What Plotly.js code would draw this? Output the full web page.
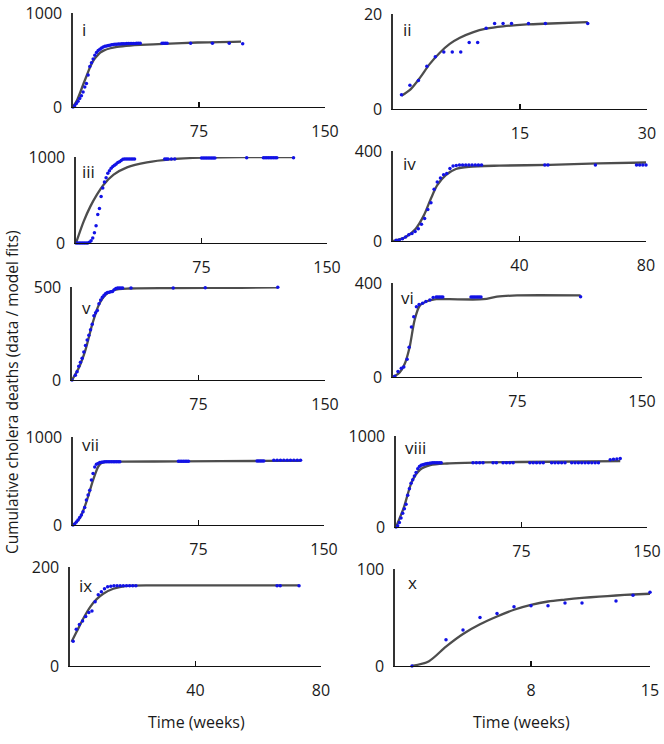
<!DOCTYPE html>
<html>
<head>
<meta charset="utf-8">
<script src="https://cdn.plot.ly/plotly-3.0.1.min.js"></script>
<style>html,body{margin:0;padding:0;background:#fff;}#chart{width:664px;height:744px;}</style>
</head>
<body>
<div id="chart"></div>
<script>
// ---------- DATA ----------
const panelNames = ['i','ii','iii','iv','v','vi','vii','viii','ix','x'];
const yTops  = [1000, 20, 1000, 400, 500, 400, 1000, 1000, 200, 100];
const xMaxes = [150, 30, 150, 80, 150, 150, 150, 150, 80, 15];
const xTickVals = [[75,150],[15,30],[75,150],[40,80],[75,150],[75,150],[75,150],[75,150],[40,80],[8,15]];
const xTickText = [['75','150'],['15','30'],['75','150'],['40','80'],['75','150'],['75','150'],['75','150'],['75','150'],['40','80'],['8','15']];
const yTickText = [['0','1000'],['0','20'],['0','1000'],['0','400'],['0','500'],['0','400'],['0','1000'],['0','1000'],['0','200'],['0','100']];

// panel i
const iDataX = [0,1,2,3,4,5,6,7,8,9,10,11,12,13,14,15,16,17,18,19,20,21,22,23,24,25,26,27,28,29,30,31,32,33,34,35,36,37,38,39,40,53,54,55,56,70,83,93,101];
const iDataY = [0,12,36,60,90,120,160,214,250,340,430,470,510,550,580,600,615,628,638,645,650,655,658,662,665,667,668,670,671,672,673,674,675,675,675,676,676,676,677,677,677,677,677,677,677,678,678,678,672];
const iModelX = [0,2.4,4.4,6.3,8.3,10.3,12.3,14.3,16.2,18.2,22.2,26.2,34,40,54,74,100];
const iModelY = [0,71,160,250,340,430,500,543,579,600,625,639,654,661,671,686,696];
// panel ii
const iiDataX = [1,2,3,4,5,6,7,8,9,10,11,12,13,14,16,18,23];
const iiDataY = [3,5,6,9,11,12,12,12,14,14,17,18,18,18,18,18,18];
const iiModelX = [1,2.1,3.2,4.3,5.5,6.7,7.9,9.5,11,13,15.8,18.6,23];
const iiModelY = [2.8,4.2,6.6,9.4,11.8,13.7,15,16.2,16.9,17.4,17.8,18,18.3];
// panel iii
const iiiDataX = [0,1,2,3,4,5,6,7,8,9,10,11,12,13,14,15,16,17,18,19,20,21,22,23,24,25,26,27,28,29,30,31,32,33,34,35,53,54,55,57,59,75,76,77,78,79,80,81,82,83,102,112,113,114,115,116,117,118,119,120,130];
const iiiDataY = [0,0,0,0,0,0,0,0,10,25,58,120,200,330,400,540,640,710,760,810,840,870,890,905,920,935,945,960,973,977,977,977,977,977,977,977,977,977,977,977,977,988,988,988,988,988,988,988,988,988,990,990,990,990,990,990,990,990,990,990,990];
const iiiModelX = [0,4.6,8.6,12.5,16.5,22.5,30.5,42.4,56.4,76,102,130];
const iiiModelY = [0,252,426,562,678,795,880,938,973,992,998,1000];
// panel iv
const ivDataX = [1,2,3,4,5,6,7,8,9,10,11,12,13,14,15,16,17,18,19,20,21,22,23,24,25,26,27,28,48,49,64,77,78,79,80];
const ivDataY = [3,5,10,18,28,33,42,55,75,100,140,170,230,262,280,295,300,322,333,336,338,338,338,338,338,338,338,338,338,338,338,338,338,338,338];
const ivModelX = [0,1,4,7.2,9.8,12,14,16.7,19.9,24,33.6,49.5,65,80];
const ivModelY = [0,3,18,55,115,189,248,293,320,330,335,338,345,349];
// panel v
const vDataX = [0,2,3,4,5,6,7,8,9,10,11,12,13,14,15,16,17,18,19,20,21,22,23,24,25,26,27,28,29,30,35,60,79,122];
const vDataY = [0,25,45,74,95,117,150,185,215,240,270,300,345,361,373,410,430,445,455,465,470,472,474,476,485,492,494,494,494,494,494,494,496,498];
const vModelX = [0,4,8,12,16,20,25,34,60,100,122];
const vModelY = [0,64,162,299,406,459,484,492,494,496,498];
// panel vi
const viDataX = [1,3,5,6.5,8.5,9.7,11.1,12.5,14.1,15.7,17.8,19.8,22.2,24.2,26,27,28,29,30,47,48,49,50,51,52,53,113];
const viDataY = [3,23,37,43,76,127,213,256,299,309,314,321,328,338,340,340,340,340,340,340,340,340,340,340,340,340,342];
const viModelX = [0,4,7,10,13,16,20,26,34,54.5,62.6,74.7,113];
const viModelY = [0,19,55,127,242,302,321,331,331,331,342,347,347];
// panel vii
const viiDataX = [0,1,2,3,4,5,6,7,8,9,10,11,12,13,14,15,16,17,18,19,20,21,22,23,24,25,26,27,28,63,64,65,66,67,68,69,110,111,112,113,114,120,122,124,126,128,130,132,134,136];
const viiDataY = [0,11,35,57,85,113,150,200,283,340,396,510,585,660,690,700,709,713,717,720,720,720,720,720,720,720,720,720,720,724,724,724,724,724,724,724,728,728,728,728,728,735,735,735,735,735,735,735,735,735];
const viiModelX = [0,4,8,12,15,17,20,28,64,114,136];
const viiModelY = [0,75,264,509,660,705,717,720,722,728,730];
// panel viii
const viiiDataX = [0,1,2,3,4,5,6,7,8,9,10,11,12,13,14,15,16,17,18,19,20,21,22,23,24,25,26,27,46,48,50,52,58,60,64,66,68,70,80,82,84,86,88,93,95,97,99,101,105,107,109,111,113,115,117,119,121,128,130,132,134];
const viiiDataY = [0,15,50,100,150,200,250,350,420,480,520,560,600,640,665,678,685,690,694,697,700,703,705,706,706,706,706,706,706,706,706,706,706,706,706,706,706,706,706,706,706,706,706,706,706,706,706,706,706,706,706,706,706,706,706,706,706,740,745,748,752];
const viiiModelX = [0,4.6,9.6,14.5,20.5,30.5,52,92,134];
const viiiModelY = [0,210,504,632,680,698,710,717,724];
// panel ix
const ixDataX = [1,2,3,4,5,6,7,8,9,10,11,12,13,14,15,16,17,18,19,20,21,66,67,73];
const ixDataY = [50,74,84,91,100,108,111,130,144,150,156,160,161,162,162,162,162,162,162,162,162,162,162,162];
const ixModelX = [0.5,2.1,4.25,6.4,8.5,10.6,13.8,18,29.8,73];
const ixModelY = [49,69,96,119,135,146,156,162,163,163];
// panel x
const xDataX = [1,3,4,5,6,7,8,9,10,11,13,14,15];
const xDataY = [0,27,37,50,54,61,62,62,65,65,67,73,76];
const xModelX = [1,2,3,4,5,6,7,8,9,10,11,12,13,14,15];
const xModelY = [0,5,20,33,43,51,58,63,66.5,68.5,70.2,71.5,72.7,73.7,74.5];

const dataXs = [iDataX,iiDataX,iiiDataX,ivDataX,vDataX,viDataX,viiDataX,viiiDataX,ixDataX,xDataX];
const dataYs = [iDataY,iiDataY,iiiDataY,ivDataY,vDataY,viDataY,viiDataY,viiiDataY,ixDataY,xDataY];
const modelXs = [iModelX,iiModelX,iiiModelX,ivModelX,vModelX,viModelX,viiModelX,viiiModelX,ixModelX,xModelX];
const modelYs = [iModelY,iiModelY,iiiModelY,ivModelY,vModelY,viModelY,viiModelY,viiiModelY,ixModelY,xModelY];

// ---------- LAYOUT (pixel boxes: left, right, top, bottom) ----------
const W = 664, H = 744;
const boxes = [
  [73,325,13,107],[393,647,14,109],
  [76,327,157,243],[393,646,151,241],
  [72,325,287,380],[393,642,283,377],
  [73,324,437,525],[396,647,436,527],
  [70,321,567,666],[395,650,569,666]
];
const labelPos = [[80,30],[401,30],[80,171],[401,163],[80,307],[399,297],[80,444],[403,447],[77,585],[406,582]];
const FONT = 'Open Sans, Noto Sans, sans-serif';
const TXT = '#1a1a1a';

const traces = [];
const layout = {
  width: W, height: H,
  margin: {l:0,r:0,t:0,b:0},
  paper_bgcolor: '#fff', plot_bgcolor: 'rgba(0,0,0,0)',
  showlegend: false,
  font: {family: FONT, size: 16, color: TXT},
  annotations: []
};

for (let k = 0; k < 10; k++) {
  const n = k + 1;
  const xa = 'x' + (n === 1 ? '' : n), ya = 'y' + (n === 1 ? '' : n);
  const [l, r, t, b] = boxes[k];
  layout['xaxis' + (n === 1 ? '' : n)] = {
    domain: [l / W, r / W], anchor: ya, range: [0, xMaxes[k]],
    showline: true, linecolor: '#111', linewidth: 1.4, mirror: false,
    ticks: 'inside', ticklen: 5, tickwidth: 1.2, tickcolor: '#111',
    tickvals: xTickVals[k], ticktext: xTickText[k],
    tickfont: {family: FONT, size: 16, color: TXT},
    ticklabelstandoff: 9,
    showgrid: false, zeroline: false, fixedrange: true
  };
  layout['yaxis' + (n === 1 ? '' : n)] = {
    domain: [1 - b / H, 1 - t / H], anchor: xa, range: [0, yTops[k]],
    showline: true, linecolor: '#333', linewidth: 1.6, mirror: false,
    ticks: 'inside', ticklen: 5, tickwidth: 1.2, tickcolor: '#333',
    tickvals: [0, yTops[k]], ticktext: yTickText[k],
    tickfont: {family: FONT, size: 16, color: TXT},
    ticklabelstandoff: 6,
    showgrid: false, zeroline: false, fixedrange: true
  };
  traces.push({
    type: 'scatter', mode: 'lines', x: modelXs[k], y: modelYs[k],
    xaxis: xa, yaxis: ya, cliponaxis: false,
    line: {color: '#4d4d4d', width: 2.3, shape: 'spline', smoothing: 0.8},
    hoverinfo: 'skip'
  });
  traces.push({
    type: 'scatter', mode: 'markers', x: dataXs[k], y: dataYs[k],
    xaxis: xa, yaxis: ya, cliponaxis: false,
    marker: {color: '#1212e6', size: 3.5, line: {width: 0}},
    hoverinfo: 'skip'
  });
  layout.annotations.push({
    text: panelNames[k], xref: 'paper', yref: 'paper',
    x: labelPos[k][0] / W, y: 1 - labelPos[k][1] / H,
    xanchor: 'left', yanchor: 'middle', showarrow: false,
    font: {family: FONT, size: 17, color: TXT}
  });
}

layout.annotations.push({
  text: 'Cumulative cholera deaths (data / model fits)', xref: 'paper', yref: 'paper',
  x: 12 / W, y: 1 - 392 / H, textangle: -90, showarrow: false,
  xanchor: 'center', yanchor: 'middle', font: {family: FONT, size: 15.5, color: TXT}
});
layout.annotations.push({
  text: 'Time (weeks)', xref: 'paper', yref: 'paper',
  x: 196 / W, y: 1 - 722 / H, showarrow: false,
  xanchor: 'center', yanchor: 'middle', font: {family: FONT, size: 16, color: TXT}
});
layout.annotations.push({
  text: 'Time (weeks)', xref: 'paper', yref: 'paper',
  x: 521 / W, y: 1 - 722 / H, showarrow: false,
  xanchor: 'center', yanchor: 'middle', font: {family: FONT, size: 16, color: TXT}
});

Plotly.newPlot('chart', traces, layout, {staticPlot: true, displayModeBar: false});
</script>
</body>
</html>
